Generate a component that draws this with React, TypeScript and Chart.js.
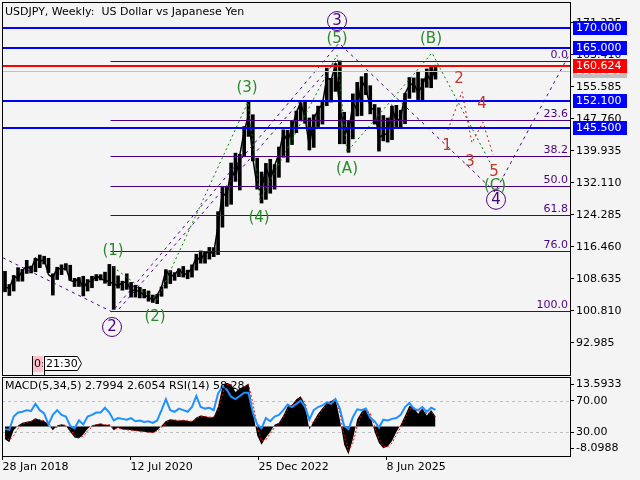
import React, { useEffect, useRef } from "react";
import { Chart, registerables } from "chart.js";

Chart.register(...registerables);

const FONT = '"DejaVu Sans", "Liberation Sans", sans-serif';
const BG = "#f4f4f4";
const FIB_COLOR = "#4b0082";
const WAVE_PURPLE = "#4b0082";
const WAVE_GREEN = "#2a8a2a";
const WAVE_RED = "#c0392b";

// ---- time axis: weeks since 28 Jan 2018; monthly samples Feb 2018 .. May 2026
const FIRST_SAMPLE_WEEK = 2.5;
const WEEKS_PER_MONTH = 52.1786 / 12;
const X_MIN = -0.5;
const X_MAX = 567.5;

const dateTickWeeks = [0, 128, 256, 384];
const dateTickLabels = ["28 Jan 2018", "12 Jul 2020", "25 Dec 2022", "8 Jun 2025"];

const priceTicks = [92.985, 100.81, 108.635, 116.46, 124.285, 132.11, 139.935, 147.76, 155.585, 163.41, 171.235];
const PRICE_MIN = 85.16;
const PRICE_MAX = 176.36;

// ---- USDJPY monthly ranges
const priceLow = [
  105.5, 104.6, 105.7, 108.1, 108.1, 110.0, 110.1, 110.4, 111.4, 112.3, 110.2,
  104.7, 108.5, 109.7, 110.8, 108.3, 106.8, 106.8, 104.5, 105.7, 106.5, 108.2, 108.4,
  107.6, 107.0, 101.2, 106.4, 105.9, 106.1, 104.2, 104.2, 104.0, 104.0, 103.2, 102.9,
  102.6, 104.4, 106.4, 107.5, 108.3, 109.2, 109.1, 108.7, 109.1, 110.8, 112.5, 112.5,
  113.5, 114.1, 114.6, 121.3, 126.4, 126.9, 132.5, 130.4, 138.8, 143.5, 137.5, 130.6,
  127.2, 128.1, 129.6, 130.6, 133.5, 138.4, 137.2, 141.5, 144.4, 147.3, 146.7, 140.2,
  140.8, 145.9, 146.5, 151.0, 151.9, 154.5, 141.7, 141.7, 139.6, 142.9, 148.5, 148.6,
  153.7, 149.0, 146.5, 139.9, 142.4, 142.1, 142.7, 145.9, 145.5, 146.6, 152.8, 154.3,
  152.5, 152.3, 155.5, 155.4, 157.5,
];
const priceHigh = [
  110.5, 107.3, 109.5, 111.4, 111.0, 113.2, 111.8, 113.7, 114.5, 114.2, 113.7,
  109.9, 111.5, 112.1, 112.4, 112.0, 108.8, 109.0, 109.3, 108.5, 109.3, 109.7, 109.7,
  110.3, 112.2, 111.7, 109.4, 108.1, 109.9, 107.8, 107.1, 106.6, 106.1, 105.7, 104.7,
  104.9, 106.7, 110.9, 110.7, 110.2, 111.1, 111.7, 110.8, 112.1, 114.7, 115.5, 115.2,
  116.35, 116.3, 125.1, 131.3, 131.3, 137.0, 139.4, 139.1, 145.9, 151.9, 148.8, 138.2,
  134.8, 136.9, 137.9, 136.6, 140.9, 145.1, 145.0, 147.4, 149.7, 151.7, 151.9, 148.0,
  148.8, 150.9, 151.9, 160.2, 157.7, 161.3, 161.95, 149.4, 147.2, 153.9, 156.7, 158.1,
  158.9, 155.9, 151.3, 150.5, 148.6, 148.0, 150.9, 151.1, 149.9, 154.0, 157.9, 157.8,
  159.2, 157.6, 160.0, 160.8, 160.9,
];
const priceClose = [
  106.7, 106.3, 109.3, 108.8, 110.7, 111.8, 111.0, 113.7, 112.9, 113.4, 109.7,
  108.9, 111.4, 110.9, 111.4, 108.3, 107.9, 108.8, 106.3, 108.1, 108.0, 109.5, 108.6,
  108.4, 107.9, 107.5, 106.9, 107.8, 107.9, 105.9, 105.9, 105.5, 104.7, 104.3, 103.3,
  104.7, 106.6, 110.7, 109.3, 109.6, 111.1, 109.7, 110.0, 111.3, 114.0, 113.2, 115.1,
  115.1, 115.0, 121.7, 129.8, 128.7, 135.7, 133.2, 138.9, 144.7, 148.7, 138.1, 131.1,
  130.1, 136.2, 132.8, 136.3, 139.3, 144.3, 142.3, 145.5, 149.4, 151.7, 148.2, 141.0,
  147.9, 150.0, 151.4, 157.8, 157.3, 160.9, 150.0, 146.2, 143.6, 152.0, 149.8, 157.2,
  155.2, 150.6, 149.9, 143.1, 144.0, 144.0, 150.7, 147.0, 148.0, 154.0, 156.0, 156.5,
  154.2, 156.0, 158.8, 157.0, 160.624,
];

// ---- indicators (monthly samples)
const macdValues = [
  -3.5, -4.3, -1.0, 0.3, 1.0, 1.3, 1.5, 2.3, 1.8, 1.5, 0.5,
  -1.0, 0.3, 0.6, 0.2, -1.5, -3.0, -3.3, -2.2, -0.6, 0.3, 0.6, 0.8,
  0.4, 0.5, -1.0, -0.3, -0.8, -0.9, -1.0, -1.2, -1.3, -1.5, -1.6, -1.8,
  -1.0, 0.2, 1.5, 2.0, 1.8, 1.6, 1.8, 1.5, 1.4, 2.5, 3.0, 2.8,
  2.5, 2.6, 5.5, 11.0, 12.0, 11.5, 9.5, 10.5, 11.0, 11.8, 4.0, -2.5,
  -5.0, -3.0, -1.5, 0.5, 1.0, 3.0, 5.5, 6.0, 7.5, 8.3, 6.0, -0.8,
  1.5, 3.5, 5.0, 6.5, 7.0, 7.7, 2.0, -5.0, -7.7, -3.5, 2.0, 4.0,
  5.0, 3.0, -1.5, -4.5, -6.0, -5.5, -4.0, -1.5, 0.5, 3.0, 5.7, 5.2,
  3.5, 5.0, 3.0, 4.5, 2.7994,
];
const macdSignal = [
  -2.5, -3.8, -2.5, -0.5, 0.6, 1.1, 1.4, 1.9, 1.9, 1.6, 0.9,
  -0.4, -0.2, 0.4, 0.4, -0.8, -2.4, -3.1, -2.6, -1.2, -0.1, 0.5, 0.7,
  0.5, 0.5, -0.5, -0.5, -0.7, -0.9, -1.0, -1.1, -1.3, -1.4, -1.6, -1.7,
  -1.3, -0.3, 1.0, 1.8, 1.8, 1.7, 1.7, 1.6, 1.4, 2.1, 2.8, 2.8,
  2.6, 2.6, 4.5, 9.0, 11.5, 11.6, 10.2, 10.2, 10.8, 11.5, 6.5, 0.0,
  -4.0, -3.6, -2.0, -0.2, 0.8, 2.4, 4.6, 5.8, 7.0, 8.0, 6.8, 1.5,
  0.8, 2.8, 4.5, 6.0, 6.8, 7.5, 3.8, -2.6, -6.6, -4.6, 0.2, 3.3,
  4.7, 3.6, 0.0, -3.4, -5.5, -5.6, -4.5, -2.3, -0.2, 2.2, 4.8, 5.3,
  4.0, 4.6, 3.5, 4.1, 2.6054,
];
const rsiValues = [
  34, 33, 50, 55, 56, 58, 57, 66, 58, 54, 40,
  52, 58, 52, 50, 38, 35, 45, 40, 50, 52, 55, 55,
  61, 55, 45, 48, 47, 46, 48, 44, 45, 43, 44, 42,
  45, 58, 72, 58, 56, 60, 58, 56, 62, 76, 62, 60,
  61, 58, 79, 88, 84, 75, 72, 76, 80, 80, 55, 40,
  35, 48, 44, 50, 52, 58, 65, 62, 66, 70, 62, 46,
  58, 62, 64, 68, 66, 72, 60, 38, 34, 49, 59, 58,
  60, 48, 44, 36, 46, 45, 47, 48, 52, 62, 67, 60,
  58, 62, 56, 61, 58.28,
];
const MACD_MIN = -8.0988;
const MACD_MAX = 13.5933;
const rsiGuides = [70, 30];

// ---- horizontal levels
const blueLevels = [170, 165, 152.1, 145.5];
const lastPrice = 160.624;
const askPrice = 159.52;

// ---- Fibonacci grid
const fibHigh = 161.95;
const fibLow = 100.81;
const fibStartWeek = 108;
const fibLevels = [0, 23.6, 38.2, 50, 61.8, 76, 100];

// ---- wave paths (week, price)
const primaryWeeks = [0.5, 109.5, 336.5, 492.5, 566.5];
const primaryPrices = [113.8, 100.6, 166.3, 129.9, 163.4];
const channelWeeks = [116.5, 331.5];
const channelPrices = [101.3, 161.6];
const intermediateWeeks = [110.5, 154.5, 245.5, 257.5, 334.5, 344.5, 429.5, 491.5];
const intermediatePrices = [111.6, 103.5, 151.9, 128.0, 163.4, 139.7, 163.9, 135.3];
const minorWeeks = [445.5, 459.5, 469.5, 480.5, 490.5];
const minorPrices = [145.1, 154.4, 141.9, 147.0, 139.0];

// ---- wave labels
const circleLabels = ["2", "3", "4"];
const circleWeeks = [109.5, 334.5, 493.5];
const circlePrices = [96.9, 171.7, 128.0];
const intermediateLabels = ["(1)", "(2)", "(3)", "(4)", "(5)", "(A)", "(B)", "(C)"];
const intermediateLabelWeeks = [110.5, 152.5, 244.5, 256.5, 334.5, 344.5, 428.5, 492.5];
const intermediateLabelPrices = [115.5, 99.3, 155.3, 123.6, 167.3, 135.5, 167.3, 131.4];
const minorLabels = ["1", "2", "3", "4", "5"];
const minorLabelWeeks = [444.5, 456.5, 467.5, 479.5, 491.5];
const minorLabelPrices = [141.2, 157.5, 137.2, 151.4, 134.8];

const TITLE = "USDJPY, Weekly:  US Dollar vs Japanese Yen";

const weekOf = (i: number) => FIRST_SAMPLE_WEEK + i * WEEKS_PER_MONTH;
const pts = (xs: number[], ys: number[]) => xs.map((x, i) => ({ x, y: ys[i] }));
const monthPts = (vals: number[]) => vals.map((v, i) => ({ x: weekOf(i), y: v }));

const noPad = (s: any) => {
  s.paddingTop = 0;
  s.paddingBottom = 0;
  s.paddingLeft = 0;
  s.paddingRight = 0;
};

const mainOverlay = {
  id: "mainOverlay",
  afterDatasetsDraw(chart: any) {
    const { ctx, chartArea: a } = chart;
    const xs = chart.scales.x;
    const ys = chart.scales.y;
    const px = (v: number) => xs.getPixelForValue(v);
    const py = (v: number) => ys.getPixelForValue(v);
    ctx.save();
    ctx.beginPath();
    ctx.rect(a.left, a.top, a.right - a.left, a.bottom - a.top);
    ctx.clip();

    // fib grid
    ctx.font = `11px ${FONT}`;
    ctx.setLineDash([]);
    fibLevels.forEach((lv) => {
      const p = fibHigh - ((fibHigh - fibLow) * lv) / 100;
      const y = Math.round(py(p)) + 0.5;
      ctx.strokeStyle = FIB_COLOR;
      ctx.lineWidth = 1;
      ctx.beginPath();
      ctx.moveTo(px(fibStartWeek), y);
      ctx.lineTo(a.right, y);
      ctx.stroke();
      ctx.fillStyle = FIB_COLOR;
      ctx.textAlign = "right";
      ctx.textBaseline = "bottom";
      ctx.fillText(lv.toFixed(1), a.right - 2, y - 1);
    });

    // ask line (gray)
    {
      const y = Math.round(py(askPrice)) + 0.5;
      ctx.strokeStyle = "#c0c0c0";
      ctx.lineWidth = 1;
      ctx.beginPath();
      ctx.moveTo(a.left, y);
      ctx.lineTo(a.right, y);
      ctx.stroke();
    }
    // last price (red)
    {
      const y = Math.round(py(lastPrice));
      ctx.fillStyle = "#ff0000";
      ctx.fillRect(a.left, y - 1, a.right - a.left, 2);
    }
    // blue levels
    blueLevels.forEach((v) => {
      const y = Math.round(py(v));
      ctx.fillStyle = "#0000ff";
      ctx.fillRect(a.left, y - 1, a.right - a.left, 2);
    });

    // wave labels
    ctx.textAlign = "center";
    ctx.textBaseline = "middle";
    ctx.font = `15px ${FONT}`;
    intermediateLabels.forEach((t, i) => {
      ctx.fillStyle = WAVE_GREEN;
      ctx.fillText(t, px(intermediateLabelWeeks[i]), py(intermediateLabelPrices[i]));
    });
    minorLabels.forEach((t, i) => {
      ctx.fillStyle = WAVE_RED;
      ctx.fillText(t, px(minorLabelWeeks[i]), py(minorLabelPrices[i]));
    });
    circleLabels.forEach((t, i) => {
      const cx = px(circleWeeks[i]);
      const cy = py(circlePrices[i]);
      ctx.strokeStyle = WAVE_PURPLE;
      ctx.lineWidth = 1;
      ctx.beginPath();
      ctx.arc(cx, cy, 9.5, 0, Math.PI * 2);
      ctx.stroke();
      ctx.fillStyle = WAVE_PURPLE;
      ctx.fillText(t, cx, cy + 0.5);
    });
    ctx.restore();

    // price boxes on the axis
    ctx.save();
    ctx.font = `11px ${FONT}`;
    ctx.textAlign = "left";
    ctx.textBaseline = "middle";
    const box = (v: number, bg: string) => {
      const y = Math.round(py(v));
      ctx.fillStyle = bg;
      ctx.fillRect(a.right + 3, y - 7, 54, 14);
      ctx.fillStyle = "#ffffff";
      ctx.fillText(v.toFixed(3), a.right + 6, y + 0.5);
    };
    box(askPrice, "#c0c0c0");
    box(lastPrice, "#ff0000");
    blueLevels.forEach((v) => box(v, "#0000ff"));

    // title
    ctx.fillStyle = "#000";
    ctx.fillText(TITLE, 5, 12);

    // countdown timer
    ctx.fillStyle = "#ffc0cb";
    ctx.fillRect(32, 356, 11, 16);
    ctx.strokeStyle = "#000";
    ctx.lineWidth = 1;
    ctx.beginPath();
    ctx.moveTo(32.5, 356);
    ctx.lineTo(32.5, 376);
    ctx.stroke();
    ctx.save();
    ctx.beginPath();
    ctx.rect(32, 356, 11, 16);
    ctx.clip();
    ctx.fillStyle = "#000";
    ctx.fillText("0:", 34, 364.5);
    ctx.restore();
    ctx.fillStyle = "#ffffff";
    ctx.beginPath();
    ctx.moveTo(44.5, 356.5);
    ctx.lineTo(77.5, 356.5);
    ctx.lineTo(81.5, 363.5);
    ctx.lineTo(77.5, 370.5);
    ctx.lineTo(44.5, 370.5);
    ctx.closePath();
    ctx.fill();
    ctx.stroke();
    ctx.beginPath();
    ctx.moveTo(44.5, 356);
    ctx.lineTo(44.5, 376);
    ctx.stroke();
    ctx.fillStyle = "#000";
    ctx.fillText("21:30", 46, 364);

    // frame
    ctx.strokeStyle = "#000";
    ctx.lineWidth = 1;
    ctx.strokeRect(a.left + 0.5, a.top + 0.5, a.right - a.left, a.bottom - a.top);
    ctx.restore();
  },
};

const indOverlay = {
  id: "indOverlay",
  beforeDatasetsDraw(chart: any) {
    const { ctx, chartArea: a } = chart;
    const rs = chart.scales.rsi;
    ctx.save();
    ctx.strokeStyle = "#c0c0c0";
    ctx.lineWidth = 1;
    ctx.setLineDash([3, 3]);
    rsiGuides.forEach((v) => {
      const y = Math.round(rs.getPixelForValue(v)) + 0.5;
      ctx.beginPath();
      ctx.moveTo(a.left, y);
      ctx.lineTo(a.right, y);
      ctx.stroke();
    });
    ctx.restore();
  },
  afterDatasetsDraw(chart: any) {
    const { ctx, chartArea: a } = chart;
    ctx.save();
    ctx.font = `11px ${FONT}`;
    ctx.fillStyle = "#000";
    ctx.textAlign = "left";
    ctx.textBaseline = "middle";
    const n = macdValues.length - 1;
    const header = `MACD(5,34,5) ${macdValues[n].toFixed(4)} ${macdSignal[n].toFixed(4)} RSI(14) ${rsiValues[n].toFixed(2)}`;
    ctx.fillText(header, 5, a.top + 9);
    // min/max labels of the MACD window
    const yTop = a.top + 7;
    const yBot = a.bottom - 8;
    ctx.fillText(MACD_MAX.toFixed(4), a.right + 6, yTop);
    ctx.fillText(MACD_MIN.toFixed(4), a.right + 6, yBot);
    ctx.strokeStyle = "#000";
    ctx.lineWidth = 1;
    [yTop, yBot].forEach((y) => {
      ctx.beginPath();
      ctx.moveTo(a.right, Math.round(y) + 0.5);
      ctx.lineTo(a.right + 4, Math.round(y) + 0.5);
      ctx.stroke();
    });
    ctx.strokeRect(a.left + 0.5, a.top + 0.5, a.right - a.left, a.bottom - a.top);
    ctx.restore();
  },
};

export default function App() {
  const mainRef = useRef<HTMLCanvasElement>(null);
  const indRef = useRef<HTMLCanvasElement>(null);

  useEffect(() => {
    const font = { family: FONT, size: 11 };
    const lineDs = (data: any[], color: string, dash: number[], order: number) => ({
      type: "line" as const,
      data,
      borderColor: color,
      borderWidth: 1,
      borderDash: dash,
      pointRadius: 0,
      fill: false,
      tension: 0,
      order,
    });

    const main = new Chart(mainRef.current as HTMLCanvasElement, {
      type: "bar",
      data: {
        datasets: [
          lineDs(pts(primaryWeeks, primaryPrices), WAVE_PURPLE, [3, 4], 1),
          lineDs(pts(channelWeeks, channelPrices), WAVE_PURPLE, [3, 4], 1),
          lineDs(pts(intermediateWeeks, intermediatePrices), "#008000", [2, 3], 1),
          lineDs(pts(minorWeeks, minorPrices), "#b22222", [2, 3], 1),
          {
            type: "line" as const,
            data: monthPts(priceClose),
            borderColor: "#000",
            borderWidth: 1.5,
            pointRadius: 0,
            fill: false,
            tension: 0,
            order: 9,
          },
          {
            type: "bar" as const,
            data: priceLow.map((lo, i) => ({ x: weekOf(i), y: [lo, priceHigh[i]] })),
            backgroundColor: "#000",
            borderWidth: 0,
            barThickness: 3,
            grouped: false,
            order: 10,
          } as any,
        ],
      },
      options: {
        responsive: false,
        animation: false,
        devicePixelRatio: 1,
        events: [],
        layout: { padding: { left: 2, top: 2, right: 0, bottom: 1 } },
        plugins: { legend: { display: false }, tooltip: { enabled: false } },
        scales: {
          x: { type: "linear", min: X_MIN, max: X_MAX, display: false, offset: false },
          y: {
            position: "right",
            min: PRICE_MIN,
            max: PRICE_MAX,
            afterFit: (s: any) => {
              s.width = 70;
              noPad(s);
            },
            afterBuildTicks: (s: any) => {
              s.ticks = priceTicks.map((v) => ({ value: v }));
            },
            ticks: {
              autoSkip: false,
              padding: 2,
              color: "#000",
              font,
              callback: (v: any) => Number(v).toFixed(3),
            },
            grid: { drawOnChartArea: false, drawTicks: true, tickLength: 4, color: "#000" },
            border: { display: false },
          },
        },
      } as any,
      plugins: [mainOverlay],
    });

    const ind = new Chart(indRef.current as HTMLCanvasElement, {
      type: "line",
      data: {
        datasets: [
          {
            data: monthPts(rsiValues),
            yAxisID: "rsi",
            borderColor: "#1e90ff",
            borderWidth: 2,
            pointRadius: 0,
            tension: 0,
            fill: false,
            order: 1,
          },
          {
            data: monthPts(macdSignal),
            yAxisID: "macd",
            borderColor: "#ff0000",
            borderWidth: 1,
            borderDash: [2, 2],
            pointRadius: 0,
            tension: 0,
            fill: false,
            order: 2,
          },
          {
            data: monthPts(macdValues),
            yAxisID: "macd",
            borderColor: "#000",
            borderWidth: 0,
            backgroundColor: "#000",
            pointRadius: 0,
            tension: 0,
            fill: "origin",
            order: 3,
          },
        ],
      },
      options: {
        responsive: false,
        animation: false,
        devicePixelRatio: 1,
        events: [],
        layout: { padding: { left: 2, top: 1, right: 0, bottom: 0 } },
        plugins: { legend: { display: false }, tooltip: { enabled: false } },
        scales: {
          x: {
            type: "linear",
            min: X_MIN,
            max: X_MAX,
            offset: false,
            afterFit: (s: any) => {
              s.height = 24;
              noPad(s);
            },
            afterBuildTicks: (s: any) => {
              s.ticks = dateTickWeeks.map((v) => ({ value: v }));
            },
            ticks: {
              autoSkip: false,
              maxRotation: 0,
              align: "start",
              padding: 1,
              color: "#000",
              font,
              callback: (v: any) => dateTickLabels[dateTickWeeks.indexOf(Number(v))],
            },
            grid: { drawOnChartArea: false, drawTicks: true, tickLength: 4, color: "#000" },
            border: { display: false },
          },
          macd: { type: "linear", display: false, min: MACD_MIN, max: MACD_MAX },
          rsi: {
            type: "linear",
            position: "right",
            min: 0,
            max: 100,
            afterFit: (s: any) => {
              s.width = 70;
              noPad(s);
            },
            afterBuildTicks: (s: any) => {
              s.ticks = rsiGuides.map((v) => ({ value: v }));
            },
            ticks: {
              autoSkip: false,
              padding: 2,
              color: "#000",
              font,
              callback: (v: any) => Number(v).toFixed(2),
            },
            grid: { drawOnChartArea: false, drawTicks: true, tickLength: 4, color: "#000" },
            border: { display: false },
          },
        },
      } as any,
      plugins: [indOverlay],
    });

    return () => {
      main.destroy();
      ind.destroy();
    };
  }, []);

  return (
    <div
      style={{
        position: "absolute",
        left: 0,
        top: 0,
        width: 640,
        height: 480,
        background: BG,
        overflow: "hidden",
      }}
    >
      <canvas ref={mainRef} width={640} height={376} style={{ position: "absolute", left: 0, top: 0 }} />
      <canvas ref={indRef} width={640} height={104} style={{ position: "absolute", left: 0, top: 376 }} />
    </div>
  );
}
